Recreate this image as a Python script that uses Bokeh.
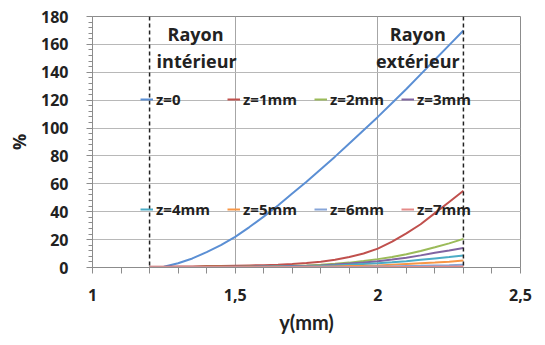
from bokeh.plotting import figure
from bokeh.models import Range1d, FixedTicker, Legend, LegendItem, Span, Label
from bokeh.embed import file_html
from bokeh.resources import INLINE

# ---- data ----
y_mm = [1.20, 1.25, 1.30, 1.35, 1.40, 1.45, 1.50, 1.55, 1.60, 1.65, 1.70, 1.75,
        1.80, 1.85, 1.90, 1.95, 2.00, 2.05, 2.10, 2.15, 2.20, 2.25, 2.30]
z0 = [0, 0.5, 3, 6.5, 11, 16, 22, 29, 36.5, 44.5, 53, 61.5,
      70.5, 79.5, 89, 98.5, 108, 118, 128, 138.5, 149, 159.5, 170]
z1 = [0.5, 0.6, 0.7, 0.8, 1.0, 1.1, 1.3, 1.5, 1.7, 2.0, 2.5, 3.2,
      4.2, 5.5, 7.5, 10, 13.5, 18.5, 24.5, 31, 39, 47, 55]
z2 = [0.3, 0.3, 0.4, 0.4, 0.5, 0.5, 0.6, 0.7, 0.8, 1.0, 1.2, 1.5,
      2.0, 2.7, 3.5, 4.6, 6.0, 7.6, 9.5, 11.8, 14.5, 17.3, 20.5]
z3 = [0.2, 0.2, 0.3, 0.3, 0.4, 0.4, 0.5, 0.6, 0.7, 0.8, 1.0, 1.2,
      1.5, 2.1, 2.8, 3.6, 4.5, 5.7, 7.0, 8.7, 10.5, 12.2, 14.0]
z4 = [0.2, 0.2, 0.2, 0.3, 0.3, 0.3, 0.4, 0.4, 0.5, 0.6, 0.7, 0.8,
      1.0, 1.5, 2.0, 2.5, 3.0, 3.7, 4.5, 5.5, 6.5, 7.5, 8.6]
z5 = [0.1, 0.1, 0.1, 0.2, 0.2, 0.2, 0.2, 0.3, 0.3, 0.3, 0.4, 0.5,
      0.6, 0.8, 1.0, 1.2, 1.5, 2.0, 2.5, 3.0, 3.5, 4.2, 5.0]
z6 = [0.1, 0.1, 0.1, 0.1, 0.1, 0.1, 0.1, 0.1, 0.2, 0.2, 0.2, 0.2,
      0.3, 0.3, 0.4, 0.5, 0.7, 0.8, 1.0, 1.2, 1.5, 1.7, 2.0]
z7 = [0.1, 0.1, 0.1, 0.1, 0.1, 0.1, 0.1, 0.1, 0.1, 0.1, 0.1, 0.1,
      0.1, 0.1, 0.2, 0.2, 0.2, 0.3, 0.3, 0.4, 0.5, 0.6, 0.8]
series_names = ["z=0", "z=1mm", "z=2mm", "z=3mm", "z=4mm", "z=5mm", "z=6mm", "z=7mm"]
series_vals = [z0, z1, z2, z3, z4, z5, z6, z7]
colors = ["#5B8FD4", "#C0504D", "#9BBB59", "#8064A2", "#4BACC6", "#F79646", "#86A5D8", "#E58A88"]
radii = [1.2, 2.3]
x_ticks = [1, 1.5, 2, 2.5]
x_tick_labels = ["1", "1,5", "2", "2,5"]
y_ticks = [0, 20, 40, 60, 80, 100, 120, 140, 160, 180]
x_title = "y(mm)"
y_title = "%"

FONT = "Open Sans"

p = figure(width=537, height=337, output_backend="svg", toolbar_location=None,
           x_range=Range1d(1, 2.5), y_range=Range1d(0, 180),
           min_border_left=92, min_border_right=17, min_border_top=16, min_border_bottom=70)
p.background_fill_color = "white"
p.border_fill_color = "white"
p.outline_line_color = "#8C8C8C"
p.outline_line_width = 1

# grids
p.xgrid.ticker = FixedTicker(ticks=x_ticks)
p.ygrid.ticker = FixedTicker(ticks=y_ticks)
p.xgrid.grid_line_color = "#A6A6A6"
p.ygrid.grid_line_color = "#B8B8B8"
p.xgrid.grid_line_width = 1
p.ygrid.grid_line_width = 1

# axes
xminor = [round(1 + 0.1 * i, 2) for i in range(16) if i % 5 != 0]
p.xaxis.ticker = FixedTicker(ticks=x_ticks, minor_ticks=xminor)
p.xaxis.major_label_overrides = {t: l for t, l in zip(x_ticks, x_tick_labels)}
yminor = [v for v in range(0, 181, 4) if v % 20 != 0]
p.yaxis.ticker = FixedTicker(ticks=y_ticks, minor_ticks=yminor)

for ax in (p.xaxis[0], p.yaxis[0]):
    ax.axis_line_color = "#8C8C8C"
    ax.major_tick_line_color = "#8C8C8C"
    ax.minor_tick_line_color = "#8C8C8C"
    ax.major_tick_in = 0
    ax.minor_tick_in = 0
    ax.major_label_text_font = FONT
    ax.major_label_text_font_style = "bold"
    ax.major_label_text_font_size = "16px"
    ax.major_label_text_color = "#222222"
    ax.axis_label_text_font = FONT
    ax.axis_label_text_font_style = "bold"
    ax.axis_label_text_font_size = "18px"
    ax.axis_label_text_color = "#222222"

p.xaxis.major_tick_out = 6
p.xaxis.minor_tick_out = 6
p.xaxis.major_label_standoff = 15
p.xaxis.axis_label = x_title
p.xaxis.axis_label_text_font = "Lato"
p.xaxis.axis_label_text_font_size = "20px"
p.xaxis.axis_label_standoff = 6

p.yaxis.major_tick_out = 6
p.yaxis.minor_tick_out = 4
p.yaxis.major_label_standoff = 18
p.yaxis.axis_label = y_title
p.yaxis.axis_label_standoff = 7

# radius markers
for r in radii:
    p.add_layout(Span(location=r, dimension="height", line_color="#222222",
                      line_dash="4 3", line_width=1.5))

renderers = []
for name, vals, c in zip(series_names, series_vals, colors):
    r = p.line(y_mm, vals, line_color=c, line_width=2)
    renderers.append(r)

def make_legend(items, loc):
    lg = Legend(items=items, orientation="horizontal", location=loc,
                background_fill_alpha=0, border_line_alpha=0, padding=0, margin=0,
                spacing=0, glyph_width=13, glyph_height=14, label_standoff=3,
                label_width=71, label_height=16,
                label_text_font=FONT, label_text_font_size="15px",
                label_text_font_style="bold", label_text_color="#222222")
    return lg

items = [LegendItem(label=n, renderers=[r]) for n, r in zip(series_names, renderers)]
p.add_layout(make_legend(items[:4], (48, 158)))
p.add_layout(make_legend(items[4:], (48, 48)))

# annotations
ann = [("Rayon", 1.361, 167.5), ("intérieur", 1.365, 148), ("Rayon", 2.14, 167.5), ("extérieur", 2.14, 148)]
for t, x, y in ann:
    p.add_layout(Label(x=x, y=y, text=t, text_align="center", text_baseline="middle",
                       text_font=FONT, text_font_size="18px", text_font_style="bold",
                       text_color="#222222", background_fill_alpha=0))

open("out.html", "w").write(file_html(p, INLINE))
